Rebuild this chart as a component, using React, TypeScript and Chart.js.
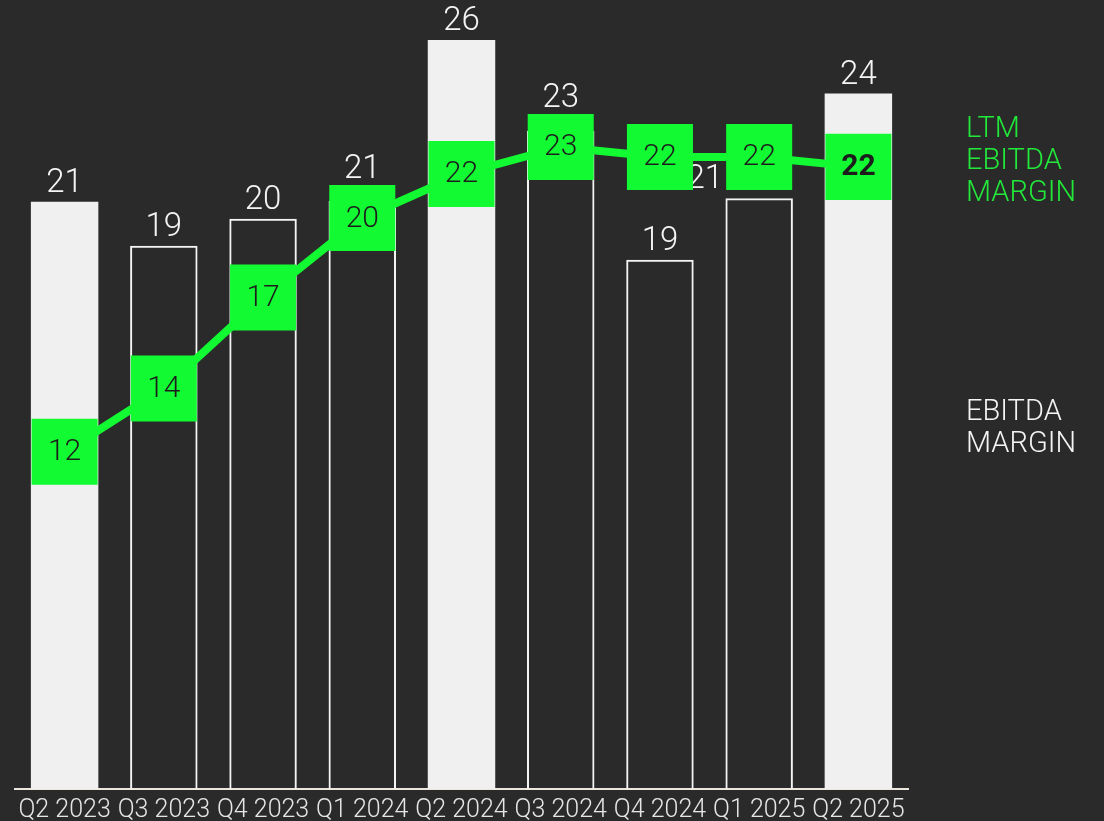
import { useEffect, useRef } from 'react';
import { Chart, registerables } from 'chart.js';

Chart.register(...registerables);

const categories = ['Q2 2023', 'Q3 2023', 'Q4 2023', 'Q1 2024', 'Q2 2024', 'Q3 2024', 'Q4 2024', 'Q1 2025', 'Q2 2025'];
const ebitdaMargin = [20.67, 19.12, 20.07, 20.7, 26.37, 23.17, 18.63, 20.8, 24.48];
const ltmEbitdaMargin = [11.87, 14.1, 17.3, 20.1, 21.65, 22.6, 22.25, 22.25, 21.9];
const barLabelPlacement = ['top', 'top', 'top', 'aboveMarker', 'top', 'aboveMarker', 'top', 'leftOfMarker', 'top'];
const ltmLegendLines = ['LTM', 'EBITDA', 'MARGIN'];
const ebitdaLegendLines = ['EBITDA', 'MARGIN'];

const BG = '#2a2a2a';
const GREEN = '#12fb32';
const GREEN_TEXT = '#22e83a';
const BAR_FILL = '#f0f0f0';
const WHITE = '#f4f4f4';
const FONT = 'Roboto, "Noto Sans", sans-serif';
const MARKER_RADIUS = 46.7;

export default function App() {
  const ref = useRef<HTMLCanvasElement>(null);

  useEffect(() => {
    document.body.style.margin = '0';
    document.body.style.background = BG;
    const canvas = ref.current;
    if (!canvas) return;

    const isHighlight = categories.map((c) => c.startsWith('Q2'));

    const labelsPlugin = {
      id: 'customLabels',
      beforeDraw(chart: any) {
        const ctx = chart.ctx;
        ctx.save();
        ctx.fillStyle = BG;
        ctx.fillRect(0, 0, chart.width, chart.height);
        ctx.restore();
      },
      afterDatasetDraw(chart: any, args: any) {
        const ctx = chart.ctx;
        const half = MARKER_RADIUS * Math.SQRT1_2;
        if (args.index === 0) {
          const meta = chart.getDatasetMeta(0);
          const lineMeta = chart.getDatasetMeta(1);
          ctx.save();
          ctx.font = `300 33px ${FONT}`;
          ctx.fillStyle = WHITE;
          ctx.textBaseline = 'alphabetic';
          meta.data.forEach((bar: any, i: number) => {
            const text = String(Math.round(ebitdaMargin[i]));
            const pt = lineMeta.data[i];
            const place = barLabelPlacement[i];
            let x = bar.x;
            let y = bar.y - 10;
            if (place === 'aboveMarker') {
              y = pt.y - half - 7;
            } else if (place === 'leftOfMarker') {
              const w = ctx.measureText(text).width;
              x = pt.x - half - 3 - w / 2;
            }
            ctx.textAlign = 'center';
            ctx.fillText(text, x, y);
          });
          ctx.restore();
        } else if (args.index === 1) {
          const meta = chart.getDatasetMeta(1);
          ctx.save();
          ctx.textAlign = 'center';
          ctx.textBaseline = 'middle';
          ctx.fillStyle = '#1c1c1c';
          meta.data.forEach((pt: any, i: number) => {
            const last = i === meta.data.length - 1;
            ctx.font = `${last ? 700 : 300} 30px ${FONT}`;
            ctx.fillText(String(Math.round(ltmEbitdaMargin[i])), pt.x, pt.y + 1);
          });
          ctx.restore();
        }
      },
      afterDraw(chart: any) {
        const ctx = chart.ctx;
        const area = chart.chartArea;
        const xScale = chart.scales.x;
        ctx.save();
        // category labels
        ctx.font = `300 25px ${FONT}`;
        ctx.fillStyle = '#e6e6e6';
        ctx.textAlign = 'center';
        ctx.textBaseline = 'alphabetic';
        categories.forEach((c, i) => {
          ctx.fillText(c, xScale.getPixelForTick(i), area.bottom + 28);
        });
        // legend text
        const x = area.right + 58;
        ctx.font = `300 29px ${FONT}`;
        ctx.textAlign = 'left';
        ctx.fillStyle = GREEN_TEXT;
        ltmLegendLines.forEach((t, i) => ctx.fillText(t, x, 137 + i * 32));
        ctx.fillStyle = WHITE;
        ebitdaLegendLines.forEach((t, i) => ctx.fillText(t, x, 420 + i * 32));
        ctx.restore();
      },
    };

    const chart = new Chart(canvas, {
      type: 'bar',
      data: {
        labels: categories,
        datasets: [
          {
            type: 'bar',
            label: 'EBITDA MARGIN',
            data: ebitdaMargin,
            order: 2,
            backgroundColor: isHighlight.map((h) => (h ? BAR_FILL : 'rgba(0,0,0,0)')),
            borderColor: WHITE,
            borderWidth: isHighlight.map((h) => (h ? 0 : 2)),
            borderSkipped: 'bottom',
            categoryPercentage: 1,
            barPercentage: 0.68,
          } as any,
          {
            type: 'line',
            label: 'LTM EBITDA MARGIN',
            data: ltmEbitdaMargin,
            order: 1,
            borderColor: GREEN,
            borderWidth: 8,
            tension: 0,
            pointStyle: 'rect',
            pointRadius: MARKER_RADIUS,
            pointHoverRadius: MARKER_RADIUS,
            pointBackgroundColor: GREEN,
            pointBorderWidth: 0,
            pointBorderColor: GREEN,
            clip: false,
          } as any,
        ],
      },
      options: {
        responsive: false,
        animation: false,
        events: [],
        layout: { autoPadding: false, padding: { left: 15, right: 196, top: 22, bottom: 32 } },
        plugins: {
          legend: { display: false },
          tooltip: { enabled: false },
        },
        scales: {
          x: {
            grid: { display: false, drawTicks: false },
            border: { display: true, color: '#ece6df', width: 2 },
            ticks: { display: false },
            afterFit: (s: any) => {
              s.height = 0;
            },
          },
          y: {
            display: false,
            min: 0,
            max: 27,
          },
        },
      },
      plugins: [labelsPlugin],
    });

    return () => chart.destroy();
  }, []);

  return (
    <div style={{ width: 1104, height: 821, background: BG }}>
      <canvas ref={ref} width={1104} height={821} style={{ display: 'block' }} />
    </div>
  );
}
